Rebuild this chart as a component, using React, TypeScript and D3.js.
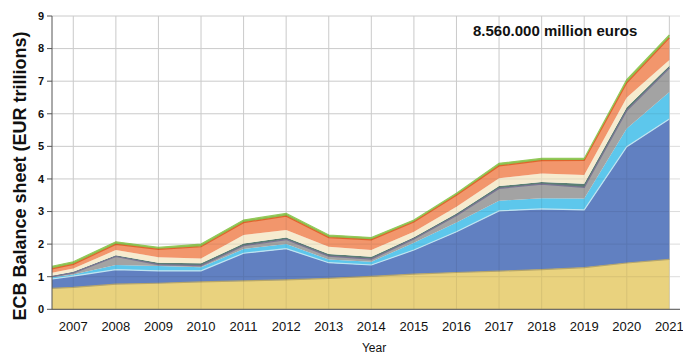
import React from "react";
import * as d3 from "d3";

const years = [2006.5, 2007, 2008, 2009, 2010, 2011, 2012, 2013, 2014, 2015, 2016, 2017, 2018, 2019, 2020, 2021];
const gold = [0.64, 0.67, 0.77, 0.8, 0.84, 0.87, 0.9, 0.95, 1.01, 1.08, 1.13, 1.17, 1.22, 1.28, 1.42, 1.53];
const securities = [0.29, 0.35, 0.45, 0.38, 0.34, 0.85, 0.96, 0.48, 0.35, 0.74, 1.25, 1.85, 1.86, 1.77, 3.57, 4.31];
const lending = [0.05, 0.05, 0.14, 0.15, 0.11, 0.13, 0.14, 0.1, 0.1, 0.22, 0.28, 0.31, 0.33, 0.35, 0.56, 0.83];
const otherAssets = [0.02, 0.05, 0.26, 0.04, 0.05, 0.1, 0.14, 0.1, 0.08, 0.12, 0.22, 0.38, 0.43, 0.34, 0.55, 0.73];
const claims = [0.03, 0.03, 0.04, 0.06, 0.07, 0.07, 0.06, 0.07, 0.07, 0.05, 0.06, 0.07, 0.07, 0.11, 0.1, 0.07];
const foreign = [0.09, 0.1, 0.16, 0.17, 0.15, 0.26, 0.23, 0.22, 0.21, 0.17, 0.21, 0.24, 0.26, 0.27, 0.3, 0.18];
const residual = [0.12, 0.13, 0.17, 0.24, 0.36, 0.38, 0.43, 0.28, 0.31, 0.3, 0.35, 0.38, 0.39, 0.45, 0.45, 0.68];
const misc = [0.08, 0.08, 0.08, 0.06, 0.08, 0.08, 0.08, 0.08, 0.07, 0.06, 0.06, 0.08, 0.07, 0.06, 0.1, 0.09];

const seriesKeys = ["gold", "securities", "lending", "otherAssets", "claims", "foreign", "residual", "misc"];
const seriesValues = [gold, securities, lending, otherAssets, claims, foreign, residual, misc];
const seriesColors = ["#E9D27E", "#6180C1", "#5DC7EC", "#A3A3A3", "#5B7E74", "#F6EBCF", "#F2966C", "#8CC04F"];
const edgeColors = ["#B5A56A", "#BFE3F0", null, "#7A7494", null, null, "#E0642C", "#93C95A"];

const yTicks = [0, 1, 2, 3, 4, 5, 6, 7, 8, 9];
const xTicks = [2007, 2008, 2009, 2010, 2011, 2012, 2013, 2014, 2015, 2016, 2017, 2018, 2019, 2020, 2021];
const titleText = "8.560.000 million euros";
const yLabel = "ECB Balance sheet (EUR trillions)";
const xLabel = "Year";

export default function App() {
  const W = 683, H = 356;
  const x = d3.scaleLinear().domain([2006.5, 2021.25]).range([52, 680]);
  const y = d3.scaleLinear().domain([0, 9]).range([309.3, 16]);

  const table = years.map((yr, i) => {
    const row: any = { year: yr };
    seriesKeys.forEach((k, j) => (row[k] = seriesValues[j][i]));
    return row;
  });
  const stacked = d3.stack<any>().keys(seriesKeys)(table);
  const area = d3
    .area<any>()
    .x((d) => x(d.data.year))
    .y0((d) => y(d[0]))
    .y1((d) => y(d[1]));
  const topLine = d3
    .line<any>()
    .x((d) => x(d.data.year))
    .y((d) => y(d[1]));

  const font = "'Liberation Sans', Arial, sans-serif";

  return (
    <svg width={W} height={H} style={{ position: "absolute", left: 0, top: 0, background: "#fff" }}>
      <g>
        {yTicks.map((t) => (
          <line key={"hy" + t} x1={52} x2={680} y1={y(t)} y2={y(t)} stroke="#DCDCDC" strokeWidth={1} />
        ))}
        {xTicks.map((t) => (
          <line key={"vx" + t} x1={x(t)} x2={x(t)} y1={y(9)} y2={y(0)} stroke="#DCDCDC" strokeWidth={1} />
        ))}
      </g>
      <g>
        {stacked.map((s, i) => (
          <path key={s.key} d={area(s) || ""} fill={seriesColors[i]} />
        ))}
        {stacked.map((s, i) =>
          edgeColors[i] ? (
            <path key={"e" + s.key} d={topLine(s) || ""} fill="none" stroke={edgeColors[i] as string} strokeWidth={1.2} />
          ) : null
        )}
      </g>
      <g opacity={0.07}>
        {yTicks.map((t) => (
          <line key={"hy2" + t} x1={52} x2={669.4} y1={y(t)} y2={y(t)} stroke="#000" />
        ))}
        {xTicks.map((t) => (
          <line key={"vx2" + t} x1={x(t)} x2={x(t)} y1={y(9)} y2={y(0)} stroke="#000" />
        ))}
      </g>
      <line x1={52} x2={52} y1={y(9)} y2={y(0)} stroke="#555" strokeWidth={1} />
      <line x1={52} x2={680} y1={y(0)} y2={y(0)} stroke="#555" strokeWidth={1} />
      {yTicks.map((t) => (
        <g key={"yt" + t}>
          <line x1={47} x2={52} y1={y(t)} y2={y(t)} stroke="#555" />
          <text x={44} y={y(t)} dy="0.35em" textAnchor="end" fontFamily={font} fontWeight="bold" fontSize={11} fill="#111">
            {t}
          </text>
        </g>
      ))}
      {xTicks.map((t) => (
        <text key={"xt" + t} x={x(t)} y={331} textAnchor="middle" fontFamily={font} fontSize={13} fill="#111">
          {t}
        </text>
      ))}
      <text x={374} y={352} textAnchor="middle" fontFamily={font} fontSize={12} fill="#111">
        {xLabel}
      </text>
      <text
        transform={`translate(26,176) rotate(-90)`}
        textAnchor="middle"
        fontFamily={font}
        fontWeight="bold"
        fontSize={18}
        fill="#111"
      >
        {yLabel}
      </text>
      <text x={473} y={36} fontFamily={font} fontWeight="bold" fontSize={15} fill="#111">
        {titleText}
      </text>
    </svg>
  );
}
